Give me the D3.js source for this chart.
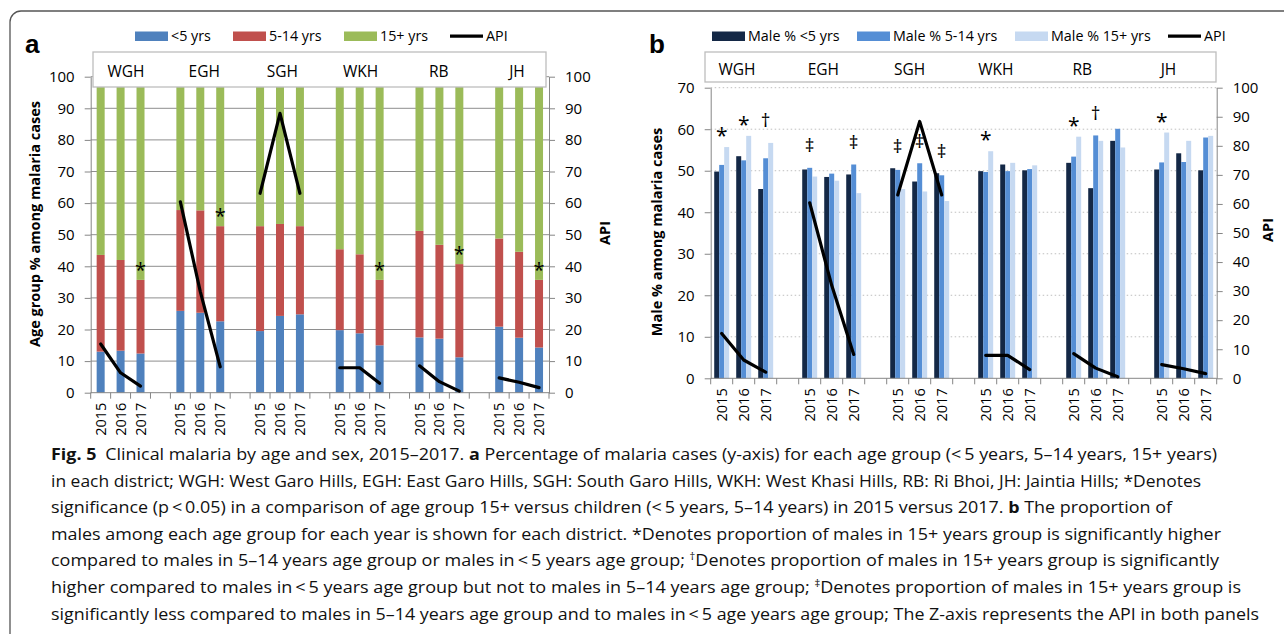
<!DOCTYPE html>
<html><head><meta charset="utf-8">
<script src="https://cdn.jsdelivr.net/npm/d3@7"></script>
<style>html,body{margin:0;padding:0;background:#fff;} svg{display:block;font-family:"Open Sans",sans-serif;}</style>
</head><body><svg id="c" width="1284" height="634"></svg>
<script>
// ---------------- DATA ----------------
const districts = ["WGH","EGH","SGH","WKH","RB","JH"];
const years = ["2015","2016","2017"];
// Panel a: age group % (district-major, 3 years each)
const under5   = [13.0,13.3,12.4, 25.9,25.3,22.6, 19.5,24.3,24.8, 19.8,18.8,15.0, 17.5,17.1,11.2, 20.9,17.4,14.3];
const age5to14 = [30.6,28.7,23.3, 31.9,32.4,30.1, 33.2,29.1,27.9, 25.6,25.0,20.7, 33.7,29.7,29.5, 27.9,27.2,21.4];
const age15plus= [56.4,58.0,64.3, 42.2,42.3,47.3, 47.3,46.6,47.3, 54.6,56.2,64.3, 48.8,53.2,59.3, 51.2,55.4,64.3];
// API (annual parasite incidence), Z-axis in both panels
const api      = [15.4,6.3,2.1, 60.4,32.0,8.2, 63.1,88.4,63.1, 7.9,7.9,3.0, 8.5,3.5,0.5, 4.7,3.3,1.6];
// Panel b: male % by age group
const maleU5   = [49.8,53.5,45.6, 50.3,48.5,49.1, 50.6,47.4,49.4, 49.9,51.5,50.1, 51.9,45.8,57.2, 50.3,54.2,50.1];
const male5to14= [51.4,52.5,53.0, 50.7,49.3,51.5, 50.2,51.8,48.9, 49.7,49.9,50.4, 53.4,58.5,60.1, 52.0,52.1,58.0];
const male15   = [55.7,58.4,56.7, 48.6,47.6,44.6, 45.6,45.0,42.7, 54.7,51.9,51.3, 58.2,57.2,55.6, 59.2,57.2,58.4];
// significance markers
const sigA = ["", "", "*",  "", "", "*",  "", "", "",  "", "", "*",  "", "", "*",  "", "", "*"];
const sigB = ["*","*","\u2020", "\u2021","","\u2021", "\u2021","\u2021","\u2021", "*","","", "*","\u2020","", "*","",""];
// ticks and legends
const ticksA = d3.range(0, 101, 10);
const ticksBLeft = d3.range(0, 71, 10);
const ticksBRight = d3.range(0, 101, 10);
const legendA = ["<5 yrs","5-14 yrs","15+ yrs","API"];
const legendB = ["Male % <5 yrs","Male % 5-14 yrs","Male % 15+ yrs","API"];
const colorsA = ["#4F81BD","#C0504D","#9BBB59"];
const colorsB = ["#142846","#558ED5","#C6D9F1"];

// ---------------- DRAW ----------------
const svg = d3.select("#c");
const FONT = "'Open Sans',sans-serif";
svg.append("rect").attr("x",10).attr("y",11).attr("width",1400).attr("height",800).attr("rx",11)
  .attr("fill","none").attr("stroke","#555").attr("stroke-width",1.3);

const nSlots = districts.length*4 - 1;
const rows = [];
districts.forEach((d,i)=>years.forEach((y,j)=>rows.push({d,i,y,j,k:i*3+j,slot:i*4+j})));
const AXC = "#868686";

function styleAxis(g, fs){
  g.select(".domain").attr("stroke",AXC);
  g.selectAll(".tick line").attr("stroke",AXC);
  g.selectAll(".tick text").attr("font-size",fs).attr("fill","#000").attr("font-family",FONT);
}

function drawPanel(cfg){
  const x = d3.scaleBand().domain(d3.range(nSlots)).range([cfg.x0,cfg.x1]).padding(0);
  const bw = x.bandwidth();
  const y = d3.scaleLinear().domain([0,cfg.ymax]).range([cfg.yb,cfg.yt]);
  const yr = d3.scaleLinear().domain([0,100]).range([cfg.yb,cfg.yt]);
  const g = svg.append("g");
  // gridlines
  g.selectAll("line.grid").data(cfg.leftTicks.filter(v=>v>0)).join("line")
    .attr("x1",cfg.x0).attr("x2",cfg.x1).attr("y1",v=>y(v)).attr("y2",v=>y(v))
    .attr("stroke",cfg.gridColor).attr("stroke-width",1).attr("stroke-dasharray",cfg.gridDash);
  // bars
  cfg.drawBars(g, x, y, bw);
  // x axis line and ticks
  g.append("line").attr("x1",cfg.x0).attr("x2",cfg.x1).attr("y1",cfg.yb).attr("y2",cfg.yb).attr("stroke",AXC);
  g.selectAll("line.xt").data(d3.range(nSlots+1)).join("line")
    .attr("x1",k=>cfg.x0+k*bw).attr("x2",k=>cfg.x0+k*bw).attr("y1",cfg.yb).attr("y2",cfg.yb+6).attr("stroke",AXC);
  g.selectAll("text.yr").data(rows).join("text")
    .attr("transform",r=>`translate(${x(r.slot)+bw/2},${cfg.yb+10}) rotate(-90)`)
    .attr("text-anchor","end").attr("dy","0.35em").attr("font-size",14.5).attr("fill","#000")
    .text(r=>r.y);
  // y axes
  const la = g.append("g").attr("transform",`translate(${cfg.x0},0)`)
    .call(d3.axisLeft(y).tickValues(cfg.leftTicks).tickSize(6).tickSizeOuter(0).tickPadding(10).tickFormat(d3.format("d")));
  styleAxis(la,15);
  const ra = g.append("g").attr("transform",`translate(${cfg.x1},0)`)
    .call(d3.axisRight(yr).tickValues(cfg.rightTicks).tickSize(6).tickSizeOuter(0).tickPadding(10).tickFormat(d3.format("d")));
  styleAxis(ra,15);
  // API lines
  const line = d3.line().x(r=>x(r.slot)+bw/2).y(r=>yr(api[r.k]));
  districts.forEach((d,i)=>{
    g.append("path").datum(rows.filter(r=>r.i===i)).attr("d",line)
      .attr("fill","none").attr("stroke","#000").attr("stroke-width",3.2).attr("stroke-linecap","round").attr("stroke-linejoin","round");
  });
  // significance markers
  cfg.drawMarks(g, x, y, bw);
  // district box
  g.append("rect").attr("x",cfg.box[0]).attr("y",cfg.box[1]).attr("width",cfg.box[2]).attr("height",cfg.box[3])
    .attr("fill","#fff").attr("stroke","#BDBDBD").attr("stroke-width",1.3);
  g.selectAll("text.dist").data(districts).join("text")
    .attr("x",(d,i)=>cfg.distX0 + i*cfg.distStep).attr("y",cfg.distY)
    .attr("text-anchor","middle").attr("font-size",15.5).attr("fill","#000").text(d=>d);
  // titles
  g.append("text").attr("transform",`translate(${cfg.ltx},${cfg.lty}) rotate(-90)`).attr("text-anchor","middle")
    .attr("font-weight","bold").attr("font-size",14.5).attr("fill","#000").text(cfg.ltitle);
  g.append("text").attr("transform",`translate(${cfg.rtx},${cfg.rty}) rotate(-90)`).attr("text-anchor","middle")
    .attr("font-weight","bold").attr("font-size",14.5).attr("fill","#000").text("API");
  // panel letter
  g.append("text").attr("x",cfg.letterX).attr("y",53).attr("font-family","'Liberation Sans',Arial,sans-serif")
    .attr("font-weight","bold").attr("font-size",26).attr("fill","#000").text(cfg.letter);
  // legend
  cfg.legend.forEach((lab,idx)=>{
    const sx = cfg.legX[idx];
    if(idx<3){
      g.append("rect").attr("x",sx).attr("y",31.5).attr("width",33).attr("height",9.5).attr("fill",cfg.colors[idx]);
    } else {
      g.append("line").attr("x1",sx).attr("x2",sx+33).attr("y1",36.2).attr("y2",36.2).attr("stroke","#000").attr("stroke-width",3.2);
    }
    g.append("text").attr("x",sx+36).attr("y",41).attr("font-size",14.3).attr("fill","#000").text(lab);
  });
}

// ----- Panel a -----
drawPanel({
  x0:90.7, x1:549, yb:392.7, yt:76.7, ymax:100,
  leftTicks:ticksA, rightTicks:ticksA, gridColor:"#8E8E8E", gridDash:null,
  box:[93,52,453,35], distX0:126, distStep:78.2, distY:76.5,
  ltitle:"Age group % among malaria cases", ltx:40, lty:224, rtx:610, rty:233,
  letter:"a", letterX:25, legend:legendA, legX:[135,233,344,450], colors:colorsA,
  drawBars:(g,x,y,bw)=>{
    const series=[under5,age5to14,age15plus];
    rows.forEach(r=>{
      let base=0;
      series.forEach((s,si)=>{
        const v=s[r.k];
        g.append("rect").attr("x",x(r.slot)+bw/2-4).attr("width",8)
          .attr("y",y(base+v)).attr("height",y(base)-y(base+v)).attr("fill",colorsA[si]);
        base+=v;
      });
    });
  },
  drawMarks:(g,x,y,bw)=>{
    rows.filter(r=>sigA[r.k]).forEach(r=>{
      const top=under5[r.k]+age5to14[r.k];
      g.append("text").attr("x",x(r.slot)+bw/2).attr("y",y(top+4.5)+0.56*20).attr("text-anchor","middle")
        .attr("font-size",20).attr("fill","#000").text(sigA[r.k]);
    });
  }
});

// ----- Panel b -----
drawPanel({
  x0:710.7, x1:1216.7, yb:378.3, yt:87.7, ymax:70,
  leftTicks:ticksBLeft, rightTicks:ticksBRight, gridColor:"#BFBFBF", gridDash:"1.5,2.5",
  box:[705,52,511,30], distX0:737, distStep:86.3, distY:75,
  ltitle:"Male % among malaria cases", ltx:662, lty:232, rtx:1273, rty:230,
  letter:"b", letterX:649, legend:legendB, legX:[712,857,1015,1168], colors:colorsB,
  drawBars:(g,x,y,bw)=>{
    const series=[maleU5,male5to14,male15];
    const inner=d3.scaleBand().domain([0,1,2]).range([0.16*bw,0.84*bw]).padding(0);
    rows.forEach(r=>{
      series.forEach((s,si)=>{
        const v=s[r.k];
        g.append("rect").attr("x",x(r.slot)+inner(si)).attr("width",inner.bandwidth())
          .attr("y",y(v)).attr("height",y(0)-y(v)).attr("fill",colorsB[si]);
      });
    });
  },
  drawMarks:(g,x,y,bw)=>{
    rows.filter(r=>sigB[r.k]).forEach(r=>{
      const mx=Math.max(maleU5[r.k],male5to14[r.k],male15[r.k]);
      const star=sigB[r.k]==="*";
      const fs=star?21:19;
      const yc=y(mx+(star?3.8:5));
      g.append("text").attr("x",x(r.slot)+bw/2).attr("y",yc+(star?0.56:0.27)*fs).attr("text-anchor","middle")
        .attr("font-size",fs).attr("fill","#000").text(sigB[r.k]);
    });
  }
});

// ---------------- CAPTION ----------------
const captionLines = [
  [["Fig. 5","b"],["\u2002Clinical malaria by age and sex, 2015\u20132017. ",""],["a","b"],[" Percentage of malaria cases (y-axis) for each age group (<\u20095 years, 5\u201314 years, 15+ years)",""]],
  [["in each district; WGH: West Garo Hills, EGH: East Garo Hills, SGH: South Garo Hills, WKH: West Khasi Hills, RB: Ri Bhoi, JH: Jaintia Hills; *Denotes",""]],
  [["significance (p\u2009<\u20090.05) in a comparison of age group 15+ versus children (<\u20095 years, 5\u201314 years) in 2015 versus 2017. ",""],["b","b"],[" The proportion of",""]],
  [["males among each age group for each year is shown for each district. *Denotes proportion of males in 15+ years group is significantly higher",""]],
  [["compared to males in 5\u201314 years age group or males in\u2009<\u20095 years age group; ",""],["\u2020","s"],["Denotes proportion of males in 15+ years group is significantly",""]],
  [["higher compared to males in\u2009<\u20095 years age group but not to males in 5\u201314 years age group; ",""],["\u2021","s"],["Denotes proportion of males in 15+ years group is",""]],
  [["significantly less compared to males in 5\u201314 years age group and to males in\u2009<\u20095 age years age group; The Z-axis represents the API in both panels",""]]
];
const captionEnds = [1217,1201,1172,1221,1219,1241,1259];
const capX = 51, capY0 = 460, capDY = 26.6;
captionLines.forEach((segs,li)=>{
  const t = svg.append("text").attr("x",capX).attr("y",capY0+li*capDY).attr("font-size",16.8).attr("fill","#111")
    .attr("textLength",captionEnds[li]-capX).attr("lengthAdjust","spacingAndGlyphs");
  let shifted=false;
  segs.forEach(([txt,st])=>{
    const ts=t.append("tspan").text(txt);
    if(st==="b") ts.attr("font-weight","bold");
    if(st==="s"){ ts.attr("font-size",10.5).attr("dy",-6); shifted=true; }
    else if(shifted){ ts.attr("dy",6); shifted=false; }
  });
});
</script></body></html>
